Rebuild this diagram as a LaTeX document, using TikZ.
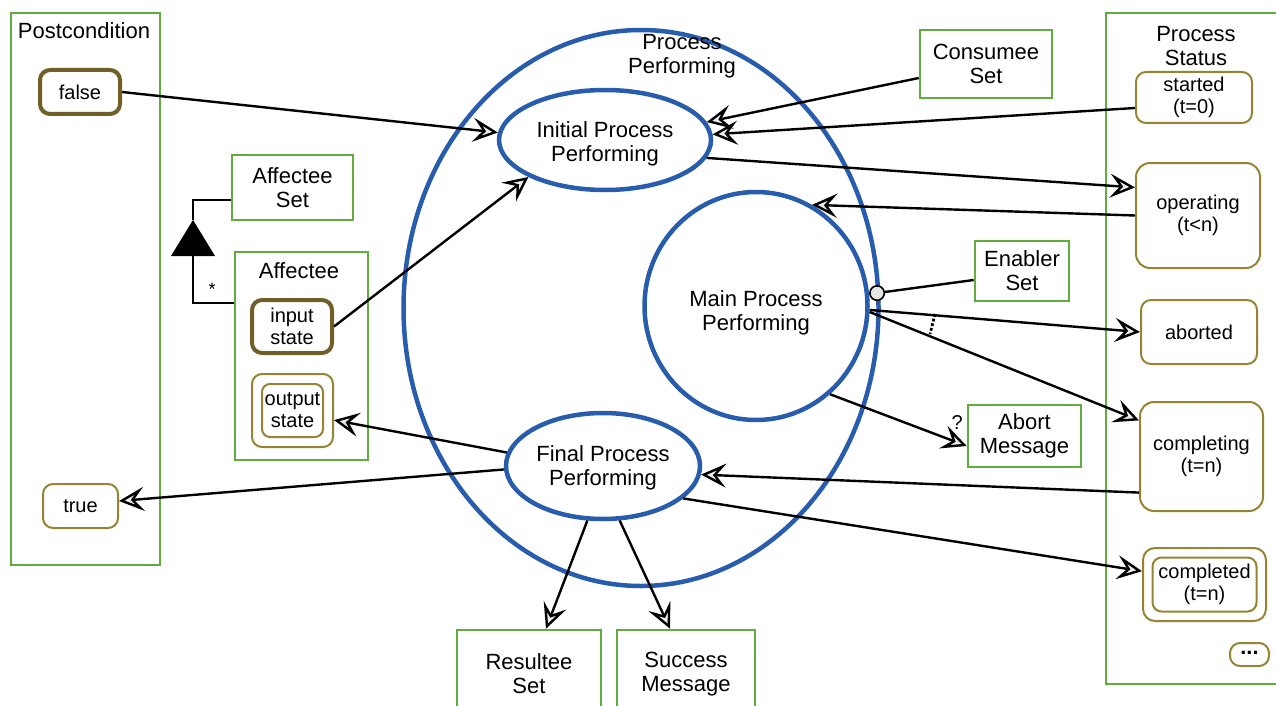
\documentclass[tikz,border=0pt]{standalone}
\usepackage{fontspec}
\setmainfont{Liberation Sans}
\usetikzlibrary{shapes.geometric,arrows.meta}
\definecolor{objgreen}{RGB}{96,172,62}
\definecolor{procblue}{RGB}{40,92,172}
\definecolor{stcol}{RGB}{150,132,52}
\definecolor{stdark}{RGB}{112,96,40}
\tikzset{
  objbox/.style={draw=objgreen, line width=2.6pt, inner sep=0pt, align=center, font=\fontsize{22}{24}\selectfont},
  frame/.style={draw=objgreen, line width=2.6pt, inner sep=0pt},
  lbl/.style={align=center, font=\fontsize{22}{24}\selectfont, inner sep=0pt},
  proc/.style={draw=procblue, ellipse, line width=4.5pt, inner sep=0pt, align=center, font=\fontsize{22}{24}\selectfont},
  stbox/.style={draw=stcol, line width=2pt, rounded corners=10pt, inner sep=0pt, align=center, font=\fontsize{20}{22}\selectfont},
  stthick/.style={draw=stdark, line width=4pt, rounded corners=10pt, inner sep=0pt, align=center, font=\fontsize{20}{22}\selectfont},
  arr/.style={line width=2.4pt, -{Stealth[length=25pt 0,width=24pt 0,inset=10pt 0,fill=white!92!black,line width=2.4pt]}},
  link/.style={line width=2.4pt},
}
\begin{document}
\begin{tikzpicture}[x=1pt,y=-1pt]
\useasboundingbox (0,0) rectangle (1276,706);
% frames
\node[frame, minimum width=149pt, minimum height=552pt] (post) at (85.5,289) {};
\node[lbl] (postlbl) at (84,31) {Postcondition};
\node[frame, minimum width=179pt, minimum height=671pt] (pstat) at (1195.5,348.5) {};
\node[lbl] (pstatlbl) at (1196,46) {Process\\Status};
\node[frame, minimum width=133pt, minimum height=208pt] (aff) at (301.5,356) {};
\node[lbl] (afflbl) at (299,271) {Affectee};
% processes
\node[proc, minimum width=475pt, minimum height=556pt] (pp) at (641,308) {};
\node[lbl] (pplbl) at (682,56) {Process\\Performing};
\node[proc, minimum width=212pt, minimum height=100pt] (init) at (605,140) {};
\node[lbl] (initlbl) at (605,144) {Initial Process\\Performing};
\node[proc, minimum width=223pt, minimum height=228pt] (main) at (756,306) {};
\node[lbl] (mainlbl) at (756,313) {Main Process\\Performing};
\node[proc, minimum width=194pt, minimum height=106pt] (final) at (603,466) {};
\node[lbl] (finallbl) at (603,468) {Final Process\\Performing};
% objects
\node[objbox, minimum width=121pt, minimum height=65pt] (affset) at (292.5,187.5) {Affectee\\Set};
\node[objbox, minimum width=132pt, minimum height=68pt] (cons) at (986,64) {Consumee\\Set};
\node[objbox, minimum width=94pt, minimum height=60pt] (enab) at (1022,271) {Enabler\\Set};
\node[objbox, minimum width=113pt, minimum height=62pt] (abort) at (1024.5,436) {Abort\\Message};
\node[objbox, minimum width=144pt, minimum height=84pt] (res) at (529,672) {};
\node[lbl] (reslbl) at (529,674) {Resultee\\Set};
\node[objbox, minimum width=138pt, minimum height=84pt] (succ) at (686,672) {};
\node[lbl] (succlbl) at (686,674) {Success\\Message};
% states
\node[stthick, minimum width=80pt, minimum height=44pt] (false) at (80,92) {false};
\node[stbox, minimum width=75pt, minimum height=44pt] (true) at (80.5,506) {true};
\node[stthick, minimum width=80pt, minimum height=53pt] (inp) at (292,326.5) {input\\state};
\node[stbox, minimum width=81pt, minimum height=73pt] (out) at (292.5,410.5) {};
\node[stbox, rounded corners=8pt, minimum width=61pt, minimum height=53pt] (outin) at (292.5,410.5) {output\\state};
\node[stbox, minimum width=116pt, minimum height=51pt] (started) at (1194,97.5) {started\\(t=0)};
\node[stbox, rounded corners=14pt, minimum width=124pt, minimum height=105pt] (oper) at (1198,215.5) {operating\\(t<n)};
\node[stbox, minimum width=116pt, minimum height=64pt] (abrt) at (1199,332) {aborted};
\node[stbox, rounded corners=14pt, minimum width=123pt, minimum height=109pt] (compl) at (1201.5,456.5) {completing\\(t=n)};
\node[stbox, rounded corners=12pt, minimum width=123pt, minimum height=73pt] (cmpd) at (1204.5,584.5) {};
\node[stbox, rounded corners=9pt, minimum width=104pt, minimum height=54pt] (cmpdin) at (1204.5,584.5) {completed\\(t=n)};
\node[stbox, minimum width=39pt, minimum height=23pt, font=\fontsize{22}{22}\bfseries] (dots) at (1249.5,654.5) {\raisebox{3pt}{...}};
% aggregation
\coordinate (triTop) at (193,220);
\coordinate (triBot) at (193,256);
\fill (triTop) -- (171,256) -- (215,256) -- cycle;
\draw[link] ([yshift=-12.5pt]affset.west) -| (triTop);
\draw[link] (triBot) |- ([yshift=53pt]aff.west);
\node[font=\fontsize{18}{18}\selectfont] (star) at (212,289) {*};
% connectors
\draw[arr] (false.east) -- (init.176);
\draw[arr] (inp.east) -- (init.south west);
\draw[arr] ([yshift=-14pt]cons.west) -- (init.10);
\draw[arr] ([yshift=-10.5pt]started.west) -- (init.3);
\draw[arr] (init.350) -- (oper.156);
\draw[arr] (oper.west) -- (main.61);
\draw[link, -{Circle[length=16pt 0,fill=gray!20,line width=1.6pt]}] ([yshift=-9pt]enab.west) -- (main.6);
\draw[arr] (main.358) -- (abrt.west);
\draw[arr] (main.357) -- (compl.150);
\draw[line width=2.8pt, dotted] (935,314) -- (930,334);
\draw[arr] (main.310) -- ([yshift=-10pt]abort.west) node[pos=0.93, above=8pt, font=\fontsize{20}{20}\selectfont] {?};
\draw[arr] (final.172) -- (out.347);
\draw[arr] (final.182) -- ([yshift=5pt]true.east);
\draw[arr] (compl.210) -- (final.355);
\draw[arr] (final.338) -- (cmpd.168);
\draw[arr] (final.254) -- ([xshift=17pt]res.north);
\draw[arr] (final.287) -- ([xshift=-16pt]succ.north);
\end{tikzpicture}
\end{document}
